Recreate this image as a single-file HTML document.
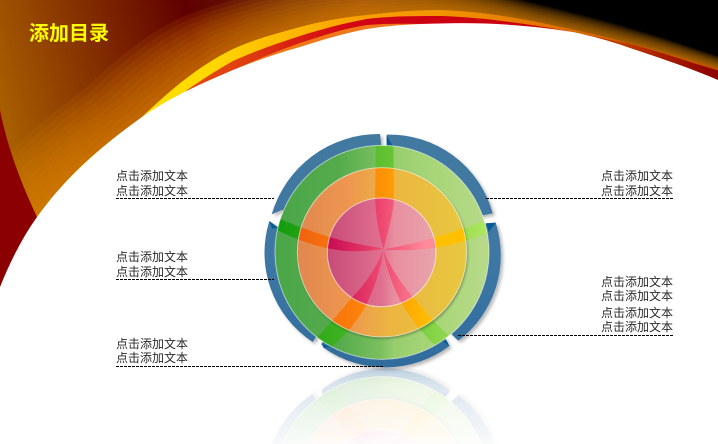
<!DOCTYPE html>
<html><head><meta charset="utf-8">
<style>
html,body{margin:0;padding:0;background:#fff;width:718px;height:444px;overflow:hidden}
svg{display:block}
text{font-family:"Liberation Sans","Noto Sans CJK SC",sans-serif}
.t{font-size:12px;fill:#2a2a2a}
.l{stroke:#000;stroke-width:1;stroke-dasharray:3 1;fill:none}
</style></head><body>
<svg width="718" height="444" viewBox="0 0 718 444" xmlns="http://www.w3.org/2000/svg">
<defs>
<linearGradient id="fan" gradientUnits="userSpaceOnUse" x1="0" y1="150" x2="550" y2="0">
<stop offset="0" stop-color="#ac6400"/><stop offset=".38" stop-color="#600000"/><stop offset=".55" stop-color="#62200a"/><stop offset=".68" stop-color="#7a3515"/><stop offset=".85" stop-color="#3a1a08"/><stop offset=".97" stop-color="#000"/>
</linearGradient>
<linearGradient id="yel" gradientUnits="userSpaceOnUse" x1="140" y1="0" x2="718" y2="0">
<stop offset="0" stop-color="#ffe000"/><stop offset=".12" stop-color="#ffd800"/><stop offset=".22" stop-color="#ffc000"/><stop offset=".38" stop-color="#f8a000"/><stop offset=".55" stop-color="#f09000"/><stop offset=".72" stop-color="#e07000"/><stop offset="1" stop-color="#b85000"/>
</linearGradient>
<linearGradient id="red" gradientUnits="userSpaceOnUse" x1="187" y1="0" x2="718" y2="0">
<stop offset="0" stop-color="#e04a10"/><stop offset=".1" stop-color="#e04010"/><stop offset=".2" stop-color="#d82010"/><stop offset=".33" stop-color="#d00014"/><stop offset=".63" stop-color="#c80010"/><stop offset=".72" stop-color="#c00808"/><stop offset=".81" stop-color="#c04000"/><stop offset=".89" stop-color="#a82000"/><stop offset="1" stop-color="#8b0000"/>
</linearGradient>
<clipPath id="fc"><path d="M0,0H800V300H80L37,217C22,185 8,150 0,110Z"/></clipPath>
<path id="F" d="M40,215C70,170 105,145 142,117C170,90 200,65 233,49C255,39 278,33 300,27C322,21 345,17 367,15C392,12 416,10 440,10C470,11 500,15 527,20C590,32 660,50 718,68L800,95V444H0Z"/>

<linearGradient id="g1" gradientUnits="userSpaceOnUse" x1="73" y1="0" x2="718" y2="0">
<stop offset="0" stop-color="#4aa648"/><stop offset=".3" stop-color="#55ab4c"/><stop offset=".5" stop-color="#7cc060"/><stop offset=".56" stop-color="#98ce6e"/><stop offset=".75" stop-color="#a8d678"/><stop offset="1" stop-color="#b8da8a"/>
</linearGradient>
<linearGradient id="g2" gradientUnits="userSpaceOnUse" x1="141" y1="0" x2="650" y2="0">
<stop offset="0" stop-color="#e08850"/><stop offset=".3" stop-color="#ee9650"/><stop offset=".55" stop-color="#ecb540"/><stop offset="1" stop-color="#e8c840"/>
</linearGradient>
<linearGradient id="g3" gradientUnits="userSpaceOnUse" x1="232" y1="0" x2="558" y2="0">
<stop offset="0" stop-color="#c84a78"/><stop offset=".5" stop-color="#e0708f"/><stop offset=".62" stop-color="#e88fa0"/><stop offset="1" stop-color="#e8a5ac"/>
</linearGradient>
<linearGradient id="b1" gradientUnits="userSpaceOnUse" x1="73" y1="0" x2="718" y2="0">
<stop offset="0" stop-color="#0f9a0a"/><stop offset=".5" stop-color="#5ec030"/><stop offset="1" stop-color="#b0e860"/>
</linearGradient>
<linearGradient id="b2" gradientUnits="userSpaceOnUse" x1="141" y1="0" x2="650" y2="0">
<stop offset="0" stop-color="#f06010"/><stop offset=".45" stop-color="#ff8a08"/><stop offset=".8" stop-color="#ffc000"/><stop offset="1" stop-color="#ffc000"/>
</linearGradient>
<linearGradient id="b3" gradientUnits="userSpaceOnUse" x1="232" y1="0" x2="558" y2="0">
<stop offset="0" stop-color="#c80a50"/><stop offset=".5" stop-color="#ee4870"/><stop offset=".9" stop-color="#ff8a98"/><stop offset="1" stop-color="#ff8a98"/>
</linearGradient>
<linearGradient id="bl" gradientUnits="userSpaceOnUse" x1="0" y1="40" x2="0" y2="745">
<stop offset="0" stop-color="#43799f"/><stop offset=".5" stop-color="#3f78a5"/><stop offset="1" stop-color="#2f6c9c"/>
</linearGradient>
<filter id="s1" x="-10%" y="-10%" width="125%" height="125%"><feDropShadow dx="7" dy="7" stdDeviation="5" flood-color="#000" flood-opacity=".28"/></filter>
<filter id="s2" x="-10%" y="-10%" width="120%" height="120%"><feDropShadow dx="4" dy="5" stdDeviation="4" flood-color="#000" flood-opacity=".3"/></filter>
<clipPath id="c1"><circle cx="396" cy="397" r="321"/></clipPath>
<clipPath id="c2"><circle cx="396" cy="397" r="254"/></clipPath>
<clipPath id="c3"><circle cx="396" cy="397" r="163"/></clipPath>
<path id="blades" d="M400,388C385,330 372,270 376,200L378,60L430,60L432,235C428,290 412,340 400,388Z
M400,388C480,375 570,350 640,325L730,295L735,330C690,345 640,370 560,382C500,392 450,392 400,388Z
M400,392C410,450 430,505 455,548C475,585 510,635 560,680L600,650C570,625 520,570 490,532C445,480 415,430 400,392Z
M400,392C375,450 340,500 305,533C285,560 240,610 200,655L245,680C265,665 285,645 297,630C320,600 335,580 349,555C375,500 392,445 400,392Z
M400,386C340,375 280,365 235,350C200,340 140,318 85,295L78,328C110,345 180,375 235,385C290,397 350,396 400,386Z"/>
<g id="wheel">
<g transform="translate(250,120) scale(.33333)">
<g filter="url(#s1)" fill="url(#bl)">
<path d="M410,44A320,320 0 0 1 728,280L697,286L396,397L410,78Z"/>
<path d="M708,310L737,308A320,320 0 0 1 625,662L607,645L396,397Z"/>
<path d="M590,662L598,678A320,320 0 0 1 222,684L214,672L396,397Z"/>
<path d="M195,655L188,666A320,320 0 0 1 58,303L85,322L396,397Z"/>
<path d="M65,283A335,335 0 0 1 390,42L394,78L396,397L95,270Z"/>
</g>
<g fill="#0b5a98">
<path d="M410,46L410,78L428,78Z"/>
<path d="M708,310L738,308L716,336Z"/>
<path d="M575,662L590,662L598,678Z"/>
<path d="M214,672L222,684L240,680Z"/>
<path d="M58,303L85,324L66,326Z"/>
</g>
<circle cx="396" cy="397" r="321" fill="url(#g1)"/>
<g clip-path="url(#c1)"><use href="#blades" fill="url(#b1)"/></g>
<circle cx="396" cy="397" r="321" fill="none" stroke="#fff" stroke-opacity=".55" stroke-width="3"/>
<circle cx="396" cy="397" r="254" fill="url(#g2)" filter="url(#s2)"/>
<g clip-path="url(#c2)"><use href="#blades" fill="url(#b2)"/></g>
<circle cx="396" cy="397" r="254" fill="none" stroke="#fff" stroke-opacity=".55" stroke-width="3"/>
<circle cx="395" cy="397" r="163" fill="url(#g3)"/>
<g clip-path="url(#c3)"><use href="#blades" fill="url(#b3)"/></g>
<circle cx="395" cy="397" r="163" fill="none" stroke="#fff" stroke-opacity=".6" stroke-width="3"/>
</g>
</g>
<linearGradient id="rf" gradientUnits="userSpaceOnUse" x1="0" y1="368" x2="0" y2="444">
<stop offset="0" stop-color="#fff" stop-opacity=".68"/><stop offset=".22" stop-color="#fff" stop-opacity=".82"/><stop offset=".5" stop-color="#fff" stop-opacity=".88"/><stop offset=".88" stop-color="#fff" stop-opacity=".94"/><stop offset="1" stop-color="#fff" stop-opacity=".97"/>
</linearGradient>
</defs>

<rect width="718" height="444" fill="#8b0000"/>
<g clip-path="url(#fc)">
<rect width="718" height="300" fill="url(#fan)"/>
<g fill="#e88a00" fill-opacity=".11">
<use href="#F" transform="translate(-55,-30)"/>
<use href="#F" transform="translate(-49.5,-27)"/>
<use href="#F" transform="translate(-44,-24)"/>
<use href="#F" transform="translate(-38.5,-21)"/>
<use href="#F" transform="translate(-33,-18)"/>
<use href="#F" transform="translate(-27.5,-15)"/>
<use href="#F" transform="translate(-22,-12)"/>
<use href="#F" transform="translate(-16.5,-9)"/>
<use href="#F" transform="translate(-11,-6)"/>
<use href="#F" transform="translate(-5.5,-3)"/>
</g>
<use href="#F" fill="url(#yel)"/>
<path d="M170,110L187,90C200,81 217,70 233,61C255,51 278,43 300,36C322,29 345,23 367,19C392,16 416,16 440,16C480,17 530,24 573,32C592,36 610,40 627,43C650,49 672,56 693,63L800,95V300H170Z" fill="url(#red)"/>
<path d="M240,67C260,58 280,50 300,43C322,36 345,28 367,25C390,23 410,24 440,24V120H240Z" fill="#f07818"/>
</g>
<path d="M0,287C10,262 22,238 37,217C65,178 100,147 142,117C172,96 205,82 233,70C255,61 278,53 300,47C322,40 345,33 367,29C392,25 416,24 440,23.5C490,22 535,26 573,32C592,36 610,41 627,47C660,58 690,68 718,80V444H0Z" fill="#fff"/>

<svg x="0" y="368" width="718" height="76" viewBox="0 368 718 76" overflow="hidden">
<use href="#wheel" transform="translate(0,736) scale(1,-1)"/>
<rect x="240" y="368" width="290" height="76" fill="url(#rf)"/>
</svg>
<use href="#wheel"/>

<text x="29" y="40" font-size="20" font-weight="700" fill="#ffff00">添加目录</text>

<text class="t" x="116" y="180">点击添加文本</text>
<text class="t" x="116" y="195">点击添加文本</text>
<text class="t" x="116" y="261">点击添加文本</text>
<text class="t" x="116" y="276">点击添加文本</text>
<text class="t" x="116" y="348">点击添加文本</text>
<text class="t" x="116" y="362">点击添加文本</text>
<text class="t" x="673" y="180" text-anchor="end">点击添加文本</text>
<text class="t" x="673" y="195" text-anchor="end">点击添加文本</text>
<text class="t" x="673" y="286" text-anchor="end">点击添加文本</text>
<text class="t" x="673" y="300" text-anchor="end">点击添加文本</text>
<text class="t" x="673" y="317" text-anchor="end">点击添加文本</text>
<text class="t" x="673" y="331" text-anchor="end">点击添加文本</text>
<path class="l" d="M116,198.5H274M116,279.5H274M116,366.5H384M486,198.5H673M458,335.5H673"/>
</svg>
</body></html>
